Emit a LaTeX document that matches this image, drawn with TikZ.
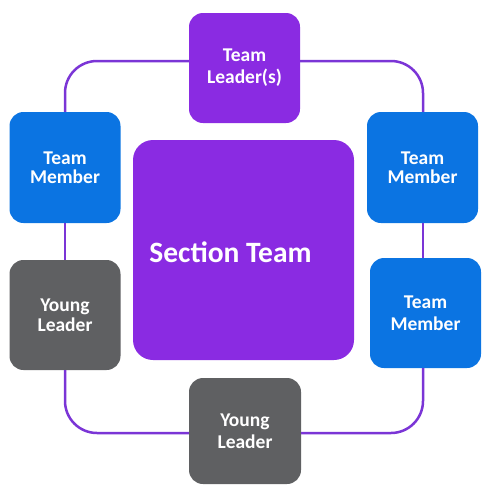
\documentclass[tikz,border=0pt]{standalone}
\usepackage{fontspec}
\setmainfont{Carlito}
\definecolor{vio}{HTML}{8A2BE2}
\definecolor{blu}{HTML}{0B74E2}
\definecolor{gry}{HTML}{5F6062}
\definecolor{ringc}{HTML}{7B35D6}
\begin{document}
\begin{tikzpicture}[x=1pt,y=-1pt,
  box/.style={rounded corners=14pt, minimum width=111pt, minimum height=110pt,
    inner sep=0pt, text=white, align=center,
    font=\bfseries\fontsize{19.5}{19.5}\selectfont},
  wide/.style={font=\bfseries\fontsize{19.5}{22}\selectfont},
  ring/.style={draw=ringc, line width=2.5pt, rounded corners=32pt}]
\useasboundingbox (0,0) rectangle (482,485);
\coordinate (rx) at (423,0);
\node[box, wide, fill=vio] (top) at (244.5,68) {Team\\Leader(s)};
\node[box, fill=blu, minimum height=111pt] (lm) at (65,167.5) {Team\\Member};
\node[box, fill=gry] (ly) at (65,315) {Young\\Leader};
\node[box, wide, fill=gry, minimum width=112pt, minimum height=106pt] (bot) at (245,431) {Young\\Leader};
\node[box, fill=blu, minimum height=111pt] (rm1) at (422.5,167.5) {Team\\Member};
\node[box, wide, fill=blu] (rm2) at (425.5,313) {Team\\Member};
\node[fill=vio, rounded corners=20pt, minimum width=221pt, minimum height=220pt, inner sep=0pt] (sec) at (243.5,250) {};
\node[text=white, font=\bfseries\fontsize{29.5}{32}\selectfont, inner sep=0pt] (sect) at (230.5,252) {Section Team};
\draw[ring] ([yshift=7pt]top.west) -| (lm.north);
\draw[ring] (lm.south) -- (ly.north);
\draw[ring] (ly.south) |- ([yshift=-2pt]bot.west);
\draw[ring] ([yshift=-2pt]bot.east) -| (rx |- rm2.south);
\draw[ring] (rx |- rm2.north) -- (rx |- rm1.south);
\draw[ring] (rx |- rm1.north) |- ([yshift=7pt]top.east);
\end{tikzpicture}
\end{document}
